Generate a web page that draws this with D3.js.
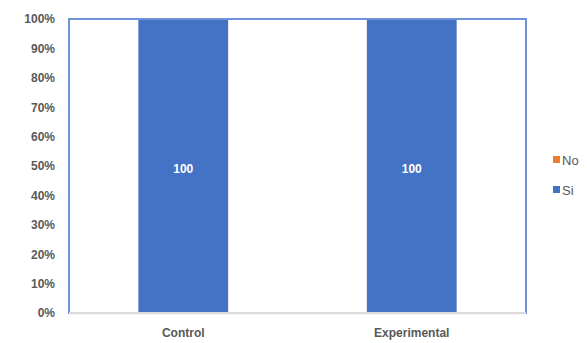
<!DOCTYPE html>
<html>
<head>
<meta charset="utf-8">
<script src="https://cdn.jsdelivr.net/npm/d3@7"></script>
<style>
  body { margin: 0; background: #fff; }
  text { font-family: "Liberation Sans", Arial, sans-serif; }
</style>
</head>
<body>
<div id="chart"></div>
<script>
// datos
var categories = ["Control", "Experimental"];
var seriesNames = ["No", "Si"];
var noValues = [0, 0];
var siValues = [100, 100];
var yTicks = [0, 10, 20, 30, 40, 50, 60, 70, 80, 90, 100];
var colors = { No: "#ED7D31", Si: "#4472C4" };

var width = 587, height = 343;
var plot = { left: 69, top: 19, right: 526, bottom: 313 };

var svg = d3.select("#chart").append("svg").attr("width", width).attr("height", height);

var x = d3.scaleBand().domain(categories).range([plot.left, plot.right]).paddingInner(0.607).paddingOuter(0.3035);
var y = d3.scaleLinear().domain([0, 100]).range([plot.bottom, plot.top]);

// stacked percentages
var rows = categories.map(function (c, i) {
  var total = noValues[i] + siValues[i];
  return { cat: c, Si: siValues[i] / total * 100, No: noValues[i] / total * 100, raw: siValues[i] };
});
var stack = d3.stack().keys(["Si", "No"])(rows);

svg.append("g").selectAll("g").data(stack).enter().append("g")
  .attr("fill", function (d) { return colors[d.key]; })
  .selectAll("rect").data(function (d) { return d; }).enter().append("rect")
  .attr("x", function (d) { return x(d.data.cat); })
  .attr("width", x.bandwidth())
  .attr("y", function (d) { return y(d[1]); })
  .attr("height", function (d) { return y(d[0]) - y(d[1]); });

// etiquetas de datos
svg.append("g").selectAll("text").data(rows).enter().append("text")
  .attr("x", function (d) { return x(d.cat) + x.bandwidth() / 2; })
  .attr("y", function (d) { return y(d.Si / 2) + 3; })
  .attr("text-anchor", "middle").attr("dominant-baseline", "central")
  .style("fill", "#fff").style("font-size", "12px").style("font-weight", "bold")
  .text(function (d) { return d.raw; });

// eje y
var yAxis = svg.append("g").attr("transform", "translate(" + plot.left + ",0)")
  .call(d3.axisLeft(y).tickValues(yTicks).tickSize(0).tickPadding(14).tickFormat(function (d) { return d + "%"; }));
yAxis.select(".domain").remove();
yAxis.selectAll("text").style("font-size", "12px").style("font-weight", "bold").style("fill", "#595959")
  .style("font-family", "'Liberation Sans', Arial, sans-serif");

// eje x
var xAxis = svg.append("g").attr("transform", "translate(0," + plot.bottom + ")")
  .call(d3.axisBottom(x).tickSize(0).tickPadding(15));
xAxis.select(".domain").attr("stroke", "#d9d9d9").attr("stroke-width", 1.5);
xAxis.selectAll("text").style("font-size", "12px").style("font-weight", "bold").style("fill", "#595959")
  .style("font-family", "'Liberation Sans', Arial, sans-serif");

// borde del area de trazado
svg.append("rect").attr("x", plot.left).attr("y", plot.top)
  .attr("width", plot.right - plot.left).attr("height", plot.bottom - plot.top)
  .attr("fill", "none").attr("stroke", "#6f93d6").attr("stroke-width", 2);
svg.append("line").attr("x1", plot.left).attr("x2", plot.right).attr("y1", plot.bottom).attr("y2", plot.bottom)
  .attr("stroke", "#d9d9d9").attr("stroke-width", 2);

// leyenda
var legend = svg.append("g").selectAll("g").data(seriesNames).enter().append("g")
  .attr("transform", function (d, i) { return "translate(553," + (160 + i * 30) + ")"; });
legend.append("rect").attr("x", 0).attr("y", -4).attr("width", 7).attr("height", 7)
  .attr("fill", function (d) { return colors[d]; });
legend.append("text").attr("x", 9).attr("y", 0).attr("dominant-baseline", "central")
  .style("font-size", "13px").style("fill", "#595959").text(function (d) { return d; });
</script>
</body>
</html>
